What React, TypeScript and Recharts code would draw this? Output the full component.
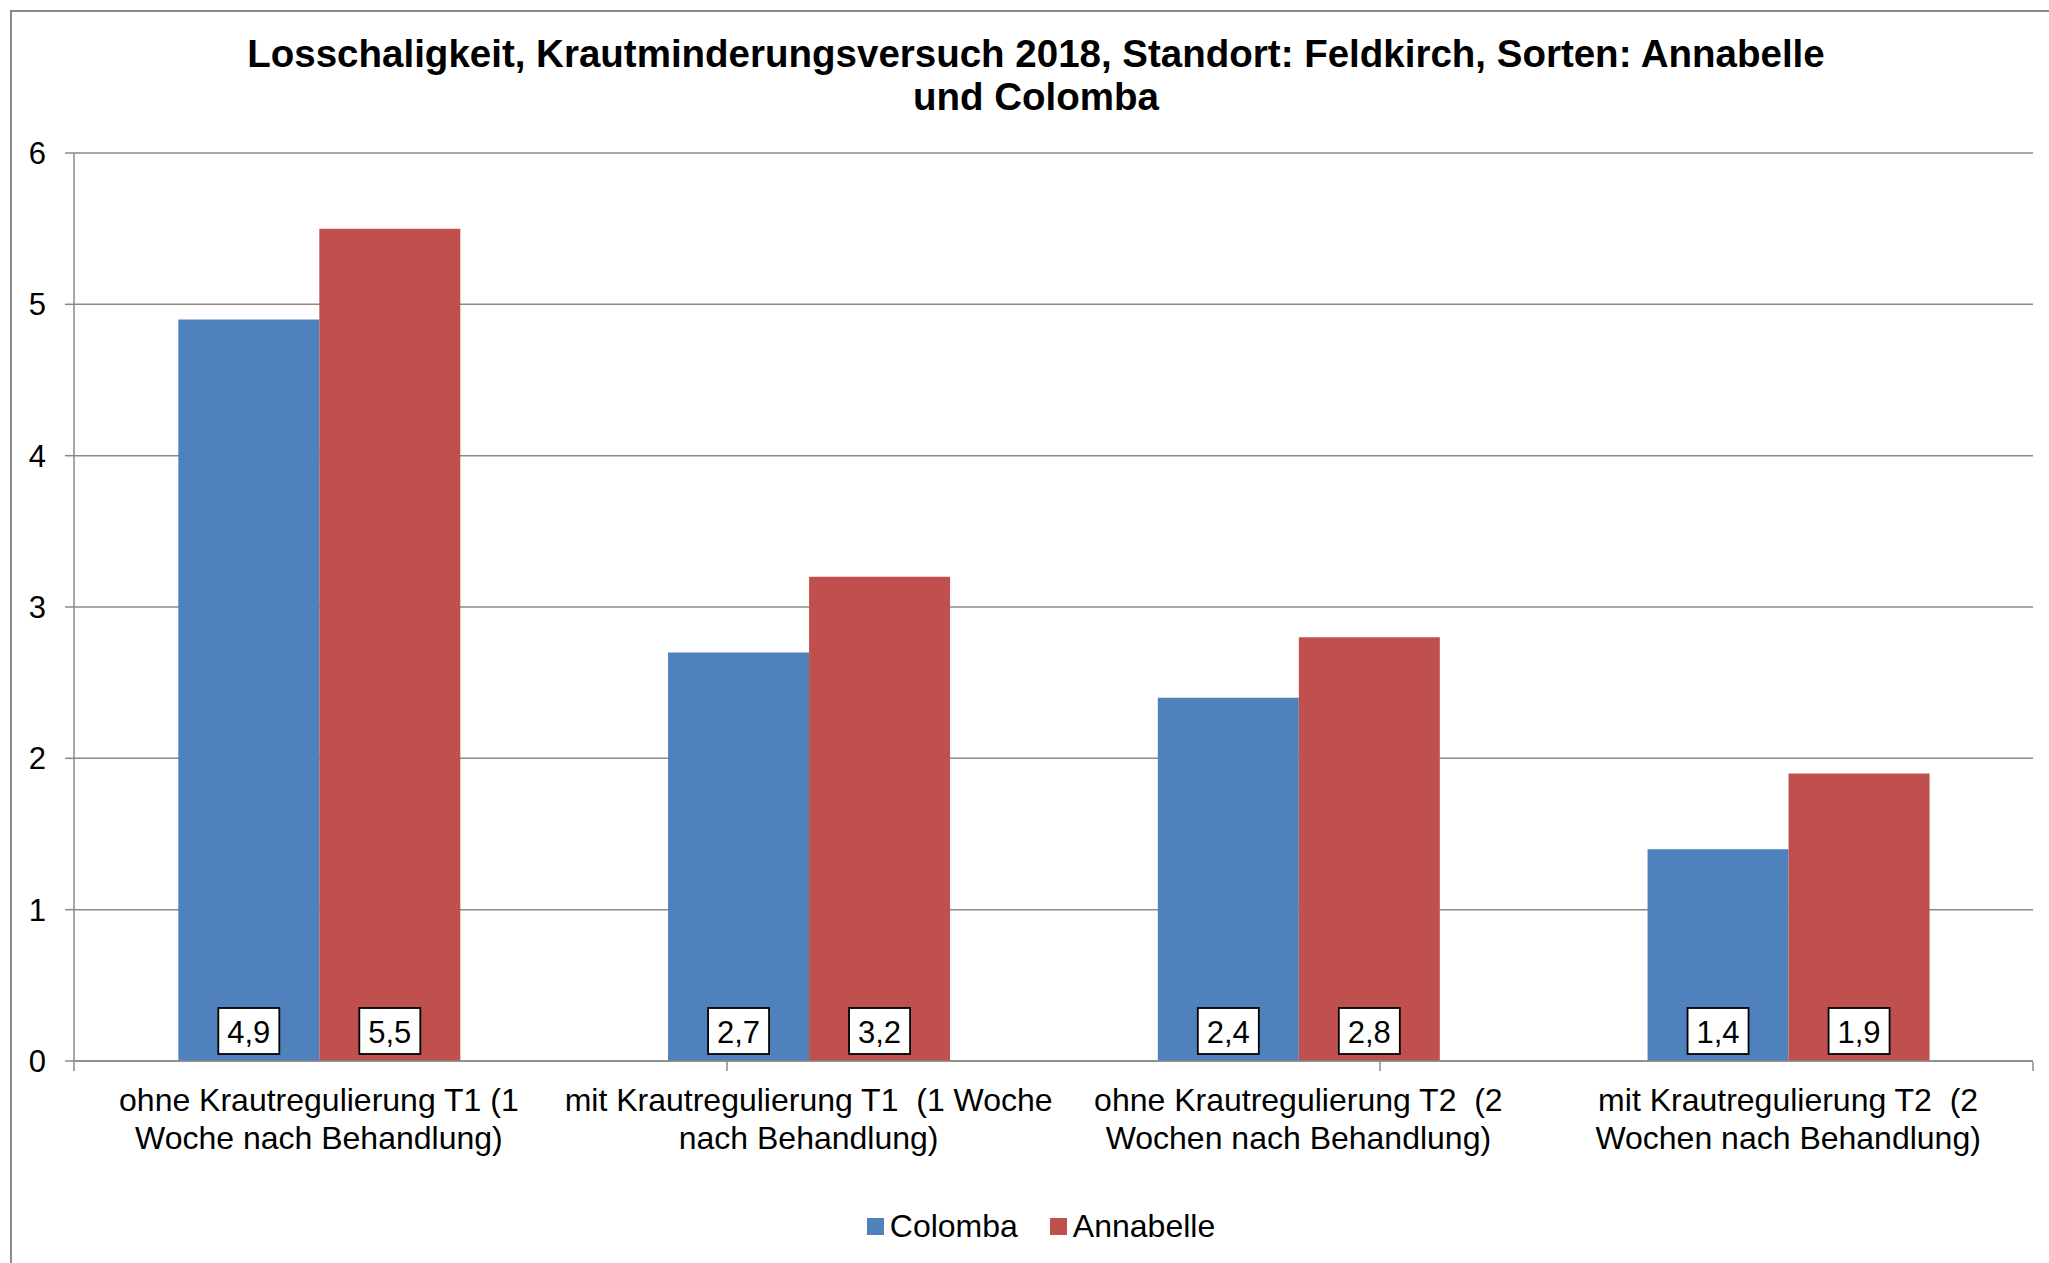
import React from "react";
import {
  BarChart,
  Bar,
  XAxis,
  YAxis,
  CartesianGrid,
  Legend,
  LabelList,
} from "recharts";

const titleLines = [
  "Losschaligkeit, Krautminderungsversuch 2018, Standort: Feldkirch, Sorten: Annabelle",
  "und Colomba",
];

const categories = [
  "ohne Krautregulierung T1 (1 Woche nach Behandlung)",
  "mit Krautregulierung T1  (1 Woche nach Behandlung)",
  "ohne Krautregulierung T2  (2 Wochen nach Behandlung)",
  "mit Krautregulierung T2  (2 Wochen nach Behandlung)",
];

const categoryLines = [
  ["ohne Krautregulierung T1 (1", "Woche nach Behandlung)"],
  ["mit Krautregulierung T1  (1 Woche", "nach Behandlung)"],
  ["ohne Krautregulierung T2  (2", "Wochen nach Behandlung)"],
  ["mit Krautregulierung T2  (2", "Wochen nach Behandlung)"],
];

const seriesNames = ["Colomba", "Annabelle"];
const colombaValues = [4.9, 2.7, 2.4, 1.4];
const annabelleValues = [5.5, 3.2, 2.8, 1.9];

const yTicks = [0, 1, 2, 3, 4, 5, 6];
const boundaryTicks = [0, 1, 2, 3, 4];

const COLORS = ["#4F81BD", "#C0504D"];
const GRAY = "#8a8a8a";
const FONT = "'Liberation Sans', Arial, sans-serif";

const data = categories.map((c, i) => ({
  category: c,
  colomba: colombaValues[i],
  annabelle: annabelleValues[i],
}));

const fmt = (v: number) => v.toFixed(1).replace(".", ",");

const CategoryTick = (props: any) => {
  const { x, y, payload } = props;
  const idx = categories.indexOf(payload.value);
  const lines = categoryLines[idx] || [String(payload.value)];
  return (
    <text
      x={x}
      y={y}
      textAnchor="middle"
      fontSize={32}
      fontFamily={FONT}
      fill="#000"
      style={{ whiteSpace: "pre" }}
    >
      {lines.map((l, i) => (
        <tspan key={i} x={x} dy={i === 0 ? 50 : 38}>
          {l}
        </tspan>
      ))}
    </text>
  );
};

const BoxLabel = (props: any) => {
  const { x, y, width, height, value } = props;
  if (value == null) return null;
  const cx = Number(x) + Number(width) / 2;
  const bottom = Number(y) + Number(height);
  return (
    <g>
      <rect
        x={cx - 30.5}
        y={bottom - 53}
        width={61}
        height={46}
        fill="#fff"
        stroke="#000"
        strokeWidth={1.8}
      />
      <text
        x={cx}
        y={bottom - 18}
        textAnchor="middle"
        fontSize={31}
        fontFamily={FONT}
        fill="#000"
      >
        {fmt(Number(value))}
      </text>
    </g>
  );
};

const LegendContent = () => (
  <div
    style={{
      width: 2049,
      height: 40,
      display: "flex",
      justifyContent: "center",
      alignItems: "center",
      paddingLeft: 33,
      boxSizing: "border-box",
      fontFamily: FONT,
      fontSize: 32,
      color: "#000",
    }}
  >
    {seriesNames.map((n, i) => (
      <div
        key={n}
        style={{
          display: "flex",
          alignItems: "center",
          marginRight: i === 0 ? 32 : 0,
        }}
      >
        <div
          style={{
            width: 17,
            height: 17,
            background: COLORS[i],
            marginRight: 6,
          }}
        />
        <span style={{ lineHeight: "40px" }}>{n}</span>
      </div>
    ))}
  </div>
);

export default function App() {
  return (
    <div
      style={{
        position: "absolute",
        left: 0,
        top: 0,
        width: 2049,
        height: 1263,
        overflow: "hidden",
        background: "#fff",
      }}
    >
      <div
        style={{
          position: "absolute",
          left: 10,
          top: 10,
          width: 2100,
          height: 1300,
          border: `2px solid ${GRAY}`,
        }}
      />
      <div
        style={{
          position: "absolute",
          left: 0,
          top: 32,
          width: 2072,
          textAlign: "center",
          fontFamily: FONT,
          fontWeight: "bold",
          fontSize: 38.5,
          lineHeight: "43px",
          color: "#000",
        }}
      >
        {titleLines.map((t) => (
          <div key={t}>{t}</div>
        ))}
      </div>
      <div style={{ position: "absolute", left: 0, top: 0 }}>
        <BarChart
          width={2049}
          height={1263}
          data={data}
          margin={{ top: 153, right: 16, bottom: 160, left: 0 }}
          barCategoryGap="21.3%"
          barGap={0}
        >
          <CartesianGrid vertical={false} stroke={GRAY} strokeWidth={1.5} />
          <XAxis
            dataKey="category"
            type="category"
            height={1}
            tickLine={false}
            tickSize={0}
            tickMargin={0}
            axisLine={{ stroke: GRAY, strokeWidth: 1.5 }}
            tick={<CategoryTick />}
            interval={0}
          />
          <XAxis
            xAxisId="bounds"
            type="number"
            domain={[0, 4]}
            ticks={boundaryTicks}
            allowDataOverflow
            height={1}
            axisLine={false}
            tickSize={9}
            tickLine={{ stroke: GRAY, strokeWidth: 1.5 }}
            tick={() => <g />}
            interval={0}
          />
          <YAxis
            width={74}
            domain={[0, 6]}
            ticks={yTicks}
            interval={0}
            tickSize={9}
            tickMargin={19}
            axisLine={{ stroke: GRAY, strokeWidth: 1.5 }}
            tickLine={{ stroke: GRAY, strokeWidth: 1.5 }}
            tick={{ fontSize: 31, fontFamily: FONT, fill: "#000" }}
          />
          <Legend
            verticalAlign="bottom"
            content={<LegendContent />}
            wrapperStyle={{ left: 0, bottom: 17, width: 2049 }}
          />
          <Bar
            dataKey="colomba"
            name={seriesNames[0]}
            fill={COLORS[0]}
            isAnimationActive={false}
          >
            <LabelList dataKey="colomba" content={<BoxLabel />} />
          </Bar>
          <Bar
            dataKey="annabelle"
            name={seriesNames[1]}
            fill={COLORS[1]}
            isAnimationActive={false}
          >
            <LabelList dataKey="annabelle" content={<BoxLabel />} />
          </Bar>
        </BarChart>
      </div>
    </div>
  );
}
